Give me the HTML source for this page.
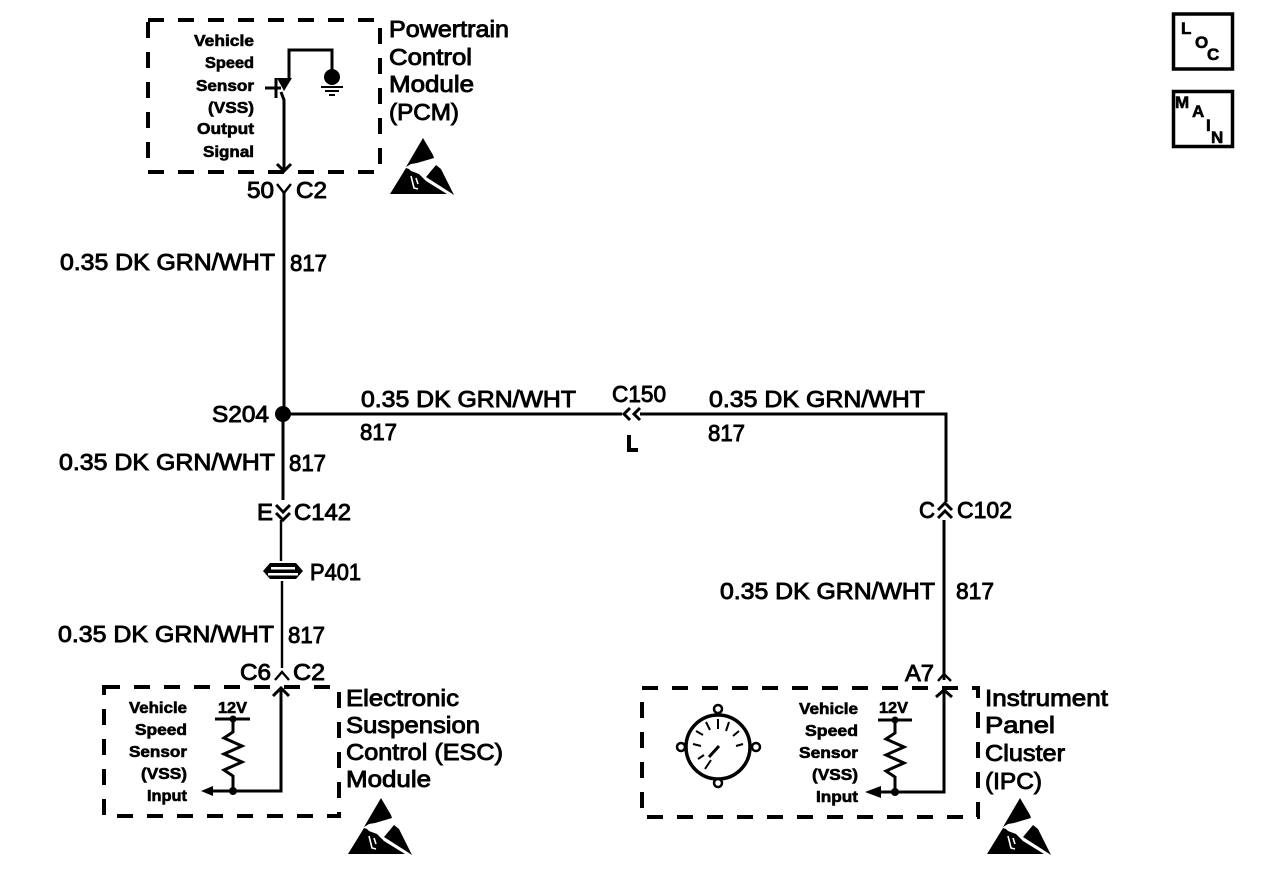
<!DOCTYPE html>
<html>
<head>
<meta charset="utf-8">
<style>
html,body{margin:0;padding:0;background:#fff;}
svg{display:block;}
text{font-family:"Liberation Sans",sans-serif;fill:#000;stroke:#000;}
.l{font-size:23px;stroke-width:.9px;}
.s{font-size:15.5px;stroke-width:.6px;text-anchor:start;font-weight:bold;}
.t{font-size:15.5px;stroke-width:.6px;font-weight:bold;}
.w{fill:none;stroke:#000;stroke-width:3;}
.d{fill:none;stroke:#000;stroke-width:4;stroke-dasharray:16 14;}
</style>
</head>
<body>
<svg width="1264" height="886" viewBox="0 0 1264 886" xmlns="http://www.w3.org/2000/svg">
<defs>
<g id="esd">
<path d="M0,0 L10,17 L11,20 L-6,25 L-12,26 L-17,29 Z" fill="#000"/>
<path d="M-17,30 L-33,56 L24,56 L3,43 L-4,36 L-12,33 L-14,31 Z" fill="#000"/>
<path d="M13,27 L18,31 L31,57 L28,55 L3,39 Z" fill="#000"/>
<path d="M-12,38 L-9,50 L-5,51 M-7,40 L-5,46" fill="none" stroke="#fff" stroke-width="1.6"/>
</g>
<g id="res">
<path d="M0,0 V13 L-9,19 L9,27 L-9,35 L9,43 L-9,51 L0,57 V72" fill="none" stroke="#000" stroke-width="3"/>
</g>
</defs>

<!-- PCM -->
<rect class="d" x="148" y="20" width="232" height="152"/>
<text class="s" x="194" y="46" textLength="60" lengthAdjust="spacingAndGlyphs">Vehicle</text>
<text class="s" x="205" y="68" textLength="49" lengthAdjust="spacingAndGlyphs">Speed</text>
<text class="s" x="196" y="91" textLength="58" lengthAdjust="spacingAndGlyphs">Sensor</text>
<text class="s" x="208" y="113" textLength="46" lengthAdjust="spacingAndGlyphs">(VSS)</text>
<text class="s" x="197" y="134" textLength="57" lengthAdjust="spacingAndGlyphs">Output</text>
<text class="s" x="203" y="157" textLength="51" lengthAdjust="spacingAndGlyphs">Signal</text>
<path class="w" d="M289,80 V50 H332 V75"/>
<circle cx="332" cy="77" r="8" fill="#000"/>
<path class="w" style="stroke-width:2" d="M321,87 H343 M325,91 H339 M329,95 H335"/>
<path d="M277,78 H292 L284,91 Z" fill="#000"/>
<path class="w" d="M265,88 H281 M276,78 V98"/>
<path class="w" d="M281,92 L284,100 V171"/>
<path class="w" d="M277,164 L284,171 L291,164"/>

<text class="l" x="389" y="37" textLength="120" lengthAdjust="spacingAndGlyphs">Powertrain</text>
<text class="l" x="389" y="65" textLength="83" lengthAdjust="spacingAndGlyphs">Control</text>
<text class="l" x="389" y="92" textLength="85" lengthAdjust="spacingAndGlyphs">Module</text>
<text class="l" x="389" y="120" textLength="70" lengthAdjust="spacingAndGlyphs">(PCM)</text>
<use href="#esd" x="423" y="138"/>

<text class="l" x="247" y="198" textLength="27" lengthAdjust="spacingAndGlyphs">50</text>
<text class="l" x="296" y="198" textLength="31" lengthAdjust="spacingAndGlyphs">C2</text>
<path class="w" style="stroke-width:2.4" d="M277,184 L284,193 L291,184"/>

<!-- Wires -->
<path class="w" d="M284,192 V414 L283,414 V500"/>
<circle cx="283" cy="414" r="8" fill="#000"/>
<path class="w" d="M283,414 H622 M640,414 H946 V502 M944,520 V680"/>
<path class="w" style="stroke-width:2.4" d="M281,520 V561 M282,581 V668"/>

<text class="l" x="60" y="270" textLength="215" lengthAdjust="spacingAndGlyphs">0.35 DK GRN/WHT</text>
<text class="l" x="290" y="271" textLength="37" lengthAdjust="spacingAndGlyphs">817</text>
<text class="l" x="212" y="422" textLength="57" lengthAdjust="spacingAndGlyphs">S204</text>
<text class="l" x="361" y="407" textLength="215" lengthAdjust="spacingAndGlyphs">0.35 DK GRN/WHT</text>
<text class="l" x="360" y="440" textLength="37" lengthAdjust="spacingAndGlyphs">817</text>
<text class="l" x="612" y="402" textLength="54" lengthAdjust="spacingAndGlyphs">C150</text>
<path class="w" d="M630,408 L624,414 L630,420 M640,408 L634,414 L640,420"/>
<path d="M627,435 H631 V448 H638 V452 H627 Z" fill="#000"/>
<text class="l" x="709" y="407" textLength="216" lengthAdjust="spacingAndGlyphs">0.35 DK GRN/WHT</text>
<text class="l" x="708" y="441" textLength="37" lengthAdjust="spacingAndGlyphs">817</text>

<text class="l" x="59" y="470" textLength="216" lengthAdjust="spacingAndGlyphs">0.35 DK GRN/WHT</text>
<text class="l" x="289" y="471" textLength="37" lengthAdjust="spacingAndGlyphs">817</text>
<text class="l" x="257" y="520" textLength="16" lengthAdjust="spacingAndGlyphs">E</text>
<text class="l" x="294" y="520" textLength="57" lengthAdjust="spacingAndGlyphs">C142</text>
<path class="w" d="M276,505 L283,512 L290,505 M276,513 L283,520 L290,513"/>

<!-- P401 -->
<path d="M263,571 L270,563 H296 L303,571 L296,579 H270 Z" fill="#000"/>
<rect x="271" y="567" width="24" height="2.5" fill="#fff"/>
<rect x="268" y="573" width="30" height="2.5" fill="#fff"/>
<text class="l" x="310" y="580" textLength="51" lengthAdjust="spacingAndGlyphs">P401</text>

<text class="l" x="58" y="642" textLength="216" lengthAdjust="spacingAndGlyphs">0.35 DK GRN/WHT</text>
<text class="l" x="288" y="643" textLength="37" lengthAdjust="spacingAndGlyphs">817</text>
<text class="l" x="240" y="680" textLength="31" lengthAdjust="spacingAndGlyphs">C6</text>
<text class="l" x="293" y="680" textLength="32" lengthAdjust="spacingAndGlyphs">C2</text>
<path class="w" style="stroke-width:2.4" d="M275,680 L282,672 L289,680"/>

<!-- ESC -->
<rect class="d" x="104" y="687" width="235" height="129"/>
<text class="s" x="129" y="713" textLength="58" lengthAdjust="spacingAndGlyphs">Vehicle</text>
<text class="s" x="135" y="735" textLength="52" lengthAdjust="spacingAndGlyphs">Speed</text>
<text class="s" x="129" y="757" textLength="58" lengthAdjust="spacingAndGlyphs">Sensor</text>
<text class="s" x="141" y="779" textLength="46" lengthAdjust="spacingAndGlyphs">(VSS)</text>
<text class="s" x="147" y="801" textLength="40" lengthAdjust="spacingAndGlyphs">Input</text>
<text class="t" x="218" y="713" textLength="29" lengthAdjust="spacingAndGlyphs">12V</text>
<path class="w" d="M215,719 H250"/>
<circle cx="233" cy="719" r="3.5" fill="#000"/>
<use href="#res" x="233" y="719"/>
<circle cx="233" cy="791" r="4" fill="#000"/>
<path class="w" d="M208,791 H281 V690"/>
<path d="M201,791 L213,786 V796 Z" fill="#000"/>
<path class="w" d="M273,696 L281,688 L289,696"/>
<text class="l" x="346" y="706" textLength="113" lengthAdjust="spacingAndGlyphs">Electronic</text>
<text class="l" x="346" y="733" textLength="134" lengthAdjust="spacingAndGlyphs">Suspension</text>
<text class="l" x="346" y="760" textLength="157" lengthAdjust="spacingAndGlyphs">Control (ESC)</text>
<text class="l" x="346" y="787" textLength="85" lengthAdjust="spacingAndGlyphs">Module</text>
<use href="#esd" x="381" y="798"/>

<!-- C102 -->
<text class="l" x="919" y="518" textLength="16" lengthAdjust="spacingAndGlyphs">C</text>
<text class="l" x="957" y="518" textLength="55" lengthAdjust="spacingAndGlyphs">C102</text>
<path class="w" d="M938,510 L945,503 L952,510 M938,518 L945,511 L952,518"/>
<text class="l" x="720" y="599" textLength="215" lengthAdjust="spacingAndGlyphs">0.35 DK GRN/WHT</text>
<text class="l" x="956" y="599" textLength="38" lengthAdjust="spacingAndGlyphs">817</text>
<text class="l" x="905" y="681" textLength="29" lengthAdjust="spacingAndGlyphs">A7</text>
<path class="w" style="stroke-width:2.4" d="M938,681 L944,674 L951,681"/>

<!-- IPC -->
<rect class="d" x="642" y="688" width="336" height="129"/>
<circle cx="718" cy="747" r="32" fill="#fff" stroke="#000" stroke-width="3.5"/>
<g fill="#fff" stroke="#000" stroke-width="2.5">
<circle cx="718" cy="709" r="4"/>
<circle cx="681" cy="747" r="4"/>
<circle cx="756" cy="747" r="4"/>
<circle cx="718" cy="783" r="4"/>
</g>
<path class="w" style="stroke-width:2" d="M698,759 L704,755 M693,744 L701,746 M696,731 L703,735 M706,722 L710,730 M718,719 V729 M729,722 L726,731 M739,731 L733,736 M743,744 L736,746 M705,769 L711,760"/>
<path class="w" d="M709,757 L719,746"/>
<text class="s" x="799" y="714" textLength="59" lengthAdjust="spacingAndGlyphs">Vehicle</text>
<text class="s" x="805" y="736" textLength="53" lengthAdjust="spacingAndGlyphs">Speed</text>
<text class="s" x="799" y="758" textLength="59" lengthAdjust="spacingAndGlyphs">Sensor</text>
<text class="s" x="812" y="780" textLength="46" lengthAdjust="spacingAndGlyphs">(VSS)</text>
<text class="s" x="816" y="802" textLength="42" lengthAdjust="spacingAndGlyphs">Input</text>
<text class="t" x="879" y="713" textLength="29" lengthAdjust="spacingAndGlyphs">12V</text>
<path class="w" d="M878,720 H912"/>
<circle cx="895" cy="720" r="3.5" fill="#000"/>
<use href="#res" x="895" y="720"/>
<circle cx="895" cy="792" r="4" fill="#000"/>
<path class="w" d="M870,792 H944 V692"/>
<path d="M865,792 L881,786 V798 Z" fill="#000"/>
<path class="w" d="M936,697 L944,690 L952,697"/>
<text class="l" x="985" y="706" textLength="123" lengthAdjust="spacingAndGlyphs">Instrument</text>
<text class="l" x="985" y="733" textLength="70" lengthAdjust="spacingAndGlyphs">Panel</text>
<text class="l" x="985" y="761" textLength="80" lengthAdjust="spacingAndGlyphs">Cluster</text>
<text class="l" x="985" y="789" textLength="57" lengthAdjust="spacingAndGlyphs">(IPC)</text>
<use href="#esd" x="1020" y="798"/>

<!-- LOC / MAIN -->
<rect x="1173.5" y="14" width="59" height="55" fill="#fff" stroke="#000" stroke-width="3.5"/>
<text class="t" x="1181" y="34" style="font-size:17px">L</text>
<text class="t" x="1195" y="48" style="font-size:17px">O</text>
<text class="t" x="1207" y="60" style="font-size:17px">C</text>
<rect x="1173.5" y="91.5" width="59" height="55" fill="#fff" stroke="#000" stroke-width="3.5"/>
<text class="t" x="1175" y="108" style="font-size:17px">M</text>
<text class="t" x="1192" y="117" style="font-size:17px">A</text>
<text class="t" x="1206" y="131" style="font-size:17px">I</text>
<text class="t" x="1211" y="143" style="font-size:17px">N</text>
</svg>
</body>
</html>
